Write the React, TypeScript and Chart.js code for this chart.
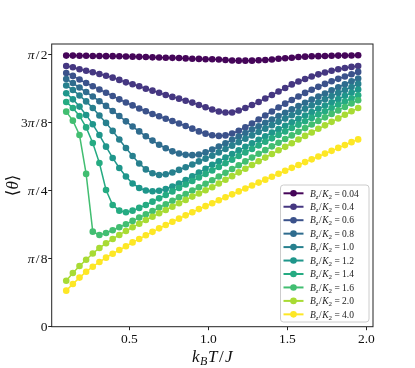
import React, { useEffect, useRef } from 'react';
import { Chart, registerables } from 'chart.js';

Chart.register(...registerables);

// k_B T / J
const TEMPS = [
  0.100, 0.142, 0.184, 0.226, 0.268, 0.310, 0.352, 0.394, 0.436, 0.478,
  0.520, 0.562, 0.604, 0.646, 0.688, 0.730, 0.772, 0.814, 0.856, 0.898,
  0.940, 0.982, 1.024, 1.066, 1.108, 1.150, 1.192, 1.234, 1.276, 1.318,
  1.360, 1.402, 1.444, 1.486, 1.528, 1.570, 1.612, 1.654, 1.696, 1.738,
  1.780, 1.822, 1.864, 1.906, 1.948,
];

const B_VALUES = ['0.04', '0.4', '0.6', '0.8', '1.0', '1.2', '1.4', '1.6', '2.0', '4.0'];

const THETA_004 = [1.563,1.563,1.562,1.562,1.561,1.561,1.560,1.560,1.559,1.558,1.557,1.556,1.555,1.553,1.552,1.551,1.550,1.549,1.547,1.545,1.544,1.542,1.542,1.541,1.538,1.535,1.534,1.534,1.534,1.536,1.538,1.541,1.545,1.548,1.551,1.555,1.557,1.559,1.560,1.561,1.562,1.563,1.563,1.564,1.565];
const THETA_04 = [1.503,1.496,1.484,1.476,1.467,1.457,1.447,1.436,1.423,1.409,1.398,1.386,1.372,1.361,1.349,1.336,1.325,1.315,1.303,1.292,1.278,1.265,1.252,1.241,1.235,1.235,1.247,1.261,1.278,1.296,1.316,1.336,1.356,1.376,1.397,1.414,1.428,1.443,1.455,1.466,1.476,1.484,1.492,1.498,1.503];
const THETA_06 = [1.463,1.446,1.425,1.405,1.386,1.368,1.349,1.330,1.311,1.293,1.276,1.258,1.242,1.226,1.213,1.199,1.186,1.172,1.157,1.142,1.126,1.113,1.104,1.100,1.103,1.114,1.130,1.150,1.172,1.195,1.218,1.241,1.264,1.286,1.307,1.327,1.348,1.366,1.383,1.400,1.415,1.429,1.443,1.456,1.469];
const THETA_08 = [1.428,1.405,1.379,1.353,1.327,1.300,1.273,1.244,1.215,1.184,1.154,1.126,1.098,1.073,1.049,1.029,1.011,0.999,0.991,0.989,0.993,1.005,1.021,1.039,1.058,1.078,1.097,1.117,1.137,1.156,1.176,1.195,1.215,1.234,1.253,1.272,1.291,1.309,1.327,1.345,1.363,1.380,1.398,1.415,1.431];
const THETA_10 = [1.391,1.365,1.333,1.299,1.261,1.218,1.175,1.129,1.079,1.030,0.984,0.941,0.907,0.885,0.875,0.879,0.889,0.904,0.919,0.935,0.953,0.969,0.986,1.005,1.025,1.044,1.064,1.084,1.103,1.123,1.142,1.162,1.181,1.200,1.219,1.238,1.257,1.275,1.294,1.312,1.330,1.348,1.365,1.382,1.400];
const THETA_12 = [1.346,1.311,1.269,1.221,1.167,1.105,1.038,0.973,0.915,0.866,0.826,0.800,0.785,0.781,0.784,0.794,0.808,0.826,0.846,0.867,0.889,0.911,0.934,0.954,0.975,0.996,1.017,1.037,1.058,1.078,1.098,1.119,1.139,1.159,1.179,1.198,1.218,1.237,1.256,1.275,1.294,1.312,1.331,1.349,1.367];
const THETA_14 = [1.296,1.261,1.215,1.149,1.059,0.944,0.788,0.702,0.669,0.660,0.669,0.685,0.702,0.721,0.740,0.759,0.780,0.800,0.820,0.840,0.860,0.881,0.901,0.921,0.942,0.963,0.984,1.005,1.025,1.045,1.066,1.086,1.106,1.126,1.146,1.165,1.185,1.204,1.223,1.242,1.261,1.280,1.298,1.316,1.334];
const THETA_16 = [1.240,1.188,1.105,0.881,0.548,0.529,0.540,0.556,0.573,0.591,0.610,0.629,0.648,0.667,0.687,0.706,0.726,0.746,0.765,0.785,0.804,0.824,0.844,0.866,0.887,0.909,0.931,0.953,0.975,0.997,1.018,1.040,1.061,1.082,1.103,1.124,1.145,1.166,1.186,1.207,1.227,1.247,1.267,1.287,1.306];
const THETA_20 = [0.265,0.310,0.350,0.386,0.422,0.454,0.481,0.506,0.529,0.552,0.573,0.594,0.615,0.634,0.654,0.673,0.692,0.712,0.731,0.750,0.768,0.787,0.804,0.826,0.847,0.868,0.890,0.911,0.932,0.954,0.975,0.996,1.017,1.037,1.058,1.079,1.100,1.120,1.141,1.161,1.181,1.201,1.222,1.242,1.261];
const THETA_40 = [0.208,0.246,0.283,0.317,0.346,0.373,0.398,0.421,0.442,0.464,0.486,0.506,0.527,0.547,0.567,0.586,0.605,0.623,0.642,0.660,0.678,0.695,0.712,0.729,0.746,0.763,0.780,0.797,0.814,0.831,0.848,0.865,0.882,0.899,0.916,0.932,0.949,0.965,0.981,0.998,1.014,1.031,1.047,1.064,1.080];

const SERIES = [THETA_004, THETA_04, THETA_06, THETA_08, THETA_10, THETA_12, THETA_14, THETA_16, THETA_20, THETA_40];
const COLORS = ['#450559', '#453781', '#3b528b', '#2f6c8e', '#27808e', '#1f968b', '#25ab82', '#42be71', '#a8db34', '#fde725'];

const Y_TICKS = [0, Math.PI / 8, Math.PI / 4, (3 * Math.PI) / 8, Math.PI / 2];
// [numerator prefix, has pi, denominator]
const Y_TICK_PARTS: [string, boolean, string][] = [
  ['0', false, ''],
  ['', true, '8'],
  ['', true, '4'],
  ['3', true, '8'],
  ['', true, '2'],
];
const X_TICKS = [0.5, 1.0, 1.5, 2.0];
const X_TICK_LABELS = ['0.5', '1.0', '1.5', '2.0'];

const SERIF = '"Liberation Serif", "DejaVu Serif", serif';

type Run = { t: string; f: string; dy?: number; gap?: number };

function runsWidth(ctx: CanvasRenderingContext2D, runs: Run[]) {
  let w = 0;
  for (const r of runs) {
    ctx.font = r.f;
    w += ctx.measureText(r.t).width + 2 * (r.gap || 0);
  }
  return w;
}

function drawRuns(ctx: CanvasRenderingContext2D, runs: Run[], x: number, y: number) {
  let cx = x;
  for (const r of runs) {
    ctx.font = r.f;
    cx += r.gap || 0;
    ctx.fillText(r.t, cx, y + (r.dy || 0));
    cx += ctx.measureText(r.t).width + (r.gap || 0);
  }
}

const decorPlugin = {
  id: 'decor',
  afterDraw(chart: any) {
    const { ctx, chartArea: a } = chart;
    ctx.save();
    // frame
    ctx.strokeStyle = '#222';
    ctx.lineWidth = 1;
    ctx.strokeRect(a.left, a.top, a.right - a.left, a.bottom - a.top);

    ctx.fillStyle = '#111';
    ctx.textBaseline = 'alphabetic';
    ctx.textAlign = 'left';

    // y tick labels
    const ys = chart.scales.y;
    const tf = `13.5px ${SERIF}`;
    const tfi = `italic 13.5px ${SERIF}`;
    Y_TICKS.forEach((v, i) => {
      const [pre, pi, den] = Y_TICK_PARTS[i];
      const runs: Run[] = [];
      if (pre) runs.push({ t: pre, f: tf });
      if (pi) runs.push({ t: 'π', f: tfi });
      if (den) {
        runs.push({ t: '/', f: tf, gap: 1.2 });
        runs.push({ t: den, f: tf });
      }
      const w = runsWidth(ctx, runs);
      const py = ys.getPixelForValue(v);
      drawRuns(ctx, runs, 47.5 - w, py + 4.6);
    });

    // x title
    const xr: Run[] = [
      { t: 'k', f: `italic 17px ${SERIF}` },
      { t: 'B', f: `italic 12px ${SERIF}`, dy: 3, gap: 0.5 },
      { t: 'T', f: `italic 17px ${SERIF}` },
      { t: '/', f: `17px ${SERIF}`, gap: 1.5 },
      { t: 'J', f: `italic 17px ${SERIF}` },
    ];
    const xw = runsWidth(ctx, xr);
    drawRuns(ctx, xr, (a.left + a.right) / 2 - xw / 2, 361.5);

    // y title
    const yr: Run[] = [
      { t: '⟨', f: `17px ${SERIF}` },
      { t: 'θ', f: `italic 17px ${SERIF}` },
      { t: '⟩', f: `17px ${SERIF}` },
    ];
    const yw = runsWidth(ctx, yr);
    ctx.save();
    ctx.translate(17.5, (a.top + a.bottom) / 2);
    ctx.rotate(-Math.PI / 2);
    drawRuns(ctx, yr, -yw / 2, 0);
    ctx.restore();

    // legend
    const lx = 280.5, ly = 185, lw = 88.5, lh = 137;
    ctx.beginPath();
    if ((ctx as any).roundRect) (ctx as any).roundRect(lx, ly, lw, lh, 3);
    else ctx.rect(lx, ly, lw, lh);
    ctx.fillStyle = 'rgba(255,255,255,0.8)';
    ctx.fill();
    ctx.strokeStyle = '#cccccc';
    ctx.lineWidth = 1;
    ctx.stroke();

    chart.data.datasets.forEach((ds: any, k: number) => {
      const ry = 193.3 + 13.45 * k;
      ctx.strokeStyle = ds.borderColor;
      ctx.lineWidth = 2;
      ctx.beginPath();
      ctx.moveTo(283.5, ry);
      ctx.lineTo(303.5, ry);
      ctx.stroke();
      ctx.fillStyle = ds.borderColor;
      ctx.beginPath();
      ctx.arc(293.5, ry, 3.3, 0, Math.PI * 2);
      ctx.fill();
      ctx.fillStyle = '#222';
      const lr: Run[] = [
        { t: 'B', f: `italic 9.5px ${SERIF}` },
        { t: 'z', f: `italic 7px ${SERIF}`, dy: 2 },
        { t: '/', f: `9.5px ${SERIF}`, gap: 0.5 },
        { t: 'K', f: `italic 9.5px ${SERIF}` },
        { t: '2', f: `7px ${SERIF}`, dy: 2 },
        { t: ' = ' + B_VALUES[k], f: `9.5px ${SERIF}` },
      ];
      drawRuns(ctx, lr, 310, ry + 3.2);
    });
    ctx.restore();
  },
};

export default function App() {
  const ref = useRef<HTMLCanvasElement | null>(null);

  useEffect(() => {
    document.body.style.margin = '0';
    const canvas = ref.current;
    if (!canvas) return;
    const datasets = SERIES.map((vals, i) => ({
      label: `B_z/K_2 = ${B_VALUES[i]}`,
      data: vals.map((v, j) => ({ x: TEMPS[j], y: v })),
      borderColor: COLORS[i],
      backgroundColor: COLORS[i],
      pointBackgroundColor: COLORS[i],
      pointBorderWidth: 0,
      pointRadius: 3.3,
      borderWidth: 1.5,
      tension: 0,
      order: SERIES.length - 1 - i,
    }));

    const tickFont = { family: SERIF, size: 13.5 };
    const chart = new Chart(canvas, {
      type: 'line',
      data: { datasets },
      options: {
        responsive: false,
        animation: false,
        layout: { padding: { left: 0, top: 44, right: 42, bottom: 0 } },
        plugins: { legend: { display: false }, tooltip: { enabled: false } },
        scales: {
          x: {
            type: 'linear',
            min: 0.008,
            max: 2.042,
            afterBuildTicks: (s: any) => {
              s.ticks = X_TICKS.map((v) => ({ value: v }));
            },
            afterFit: (s: any) => {
              s.height = 41.3;
            },
            grid: { display: true, drawOnChartArea: false, drawTicks: true, tickLength: 3.5, color: '#222', lineWidth: 1 },
            border: { display: false },
            ticks: {
              autoSkip: false,
              maxRotation: 0,
              padding: 1,
              color: '#111',
              font: tickFont,
              callback: (_v: any, i: number) => X_TICK_LABELS[i],
            },
          },
          y: {
            type: 'linear',
            min: 0,
            max: 1.63,
            afterBuildTicks: (s: any) => {
              s.ticks = Y_TICKS.map((v) => ({ value: v }));
            },
            afterFit: (s: any) => {
              s.width = 51.7;
            },
            grid: { display: true, drawOnChartArea: false, drawTicks: true, tickLength: 3.5, color: '#222', lineWidth: 1 },
            border: { display: false },
            ticks: {
              autoSkip: false,
              padding: 1,
              color: 'rgba(0,0,0,0)',
              font: tickFont,
              callback: () => '',
            },
          },
        },
      },
      plugins: [decorPlugin],
    } as any);
    return () => chart.destroy();
  }, []);

  return (
    <div style={{ position: 'fixed', left: 0, top: 0, width: 415, height: 368, background: '#fff' }}>
      <canvas ref={ref} width={415} height={368} />
    </div>
  );
}
